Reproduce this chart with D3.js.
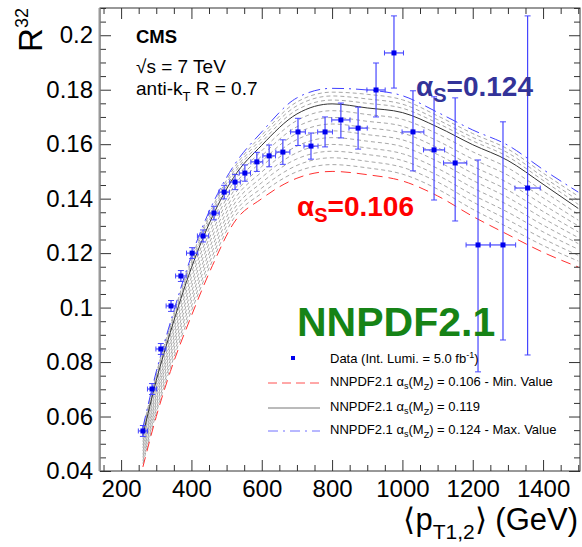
<!DOCTYPE html>
<html><head><meta charset="utf-8">
<script src="https://cdn.jsdelivr.net/npm/d3@7"></script>
<style>
body{margin:0;background:#fff}
svg{display:block}
text{font-family:"Liberation Sans",Arial,sans-serif}
</style>
</head><body>
<svg id="c" width="582" height="547"></svg>
<script>
// ---- data ----
const dataX     = [262,288,313,342,370,402,433,464,493,524,552,586,621,660,703,740,780,825,874,925,976,1030,1090,1150,1215,1286,1356];
const dataY     = [0.0547,0.0701,0.0848,0.1006,0.1116,0.1200,0.1263,0.1347,0.1424,0.1461,0.1494,0.1535,0.1557,0.1571,0.1645,0.1593,0.1645,0.1689,0.1659,0.1799,0.1935,0.1645,0.1579,0.1531,0.1230,0.1230,0.1439];
const dataErrLo = [0.0020,0.0020,0.0020,0.0020,0.0020,0.0020,0.0022,0.0025,0.0025,0.0028,0.0030,0.0035,0.0040,0.0045,0.0050,0.0048,0.0055,0.0066,0.0077,0.0099,0.0129,0.0143,0.0184,0.0213,0.0466,0.0349,0.0613];
const dataErrHi = [0.0020,0.0020,0.0020,0.0020,0.0020,0.0020,0.0022,0.0025,0.0025,0.0028,0.0030,0.0035,0.0040,0.0045,0.0050,0.0048,0.0055,0.0062,0.0077,0.0099,0.0136,0.0151,0.0195,0.0239,0.0312,0.0452,0.0632];
const dataXErr  = [13,13,14,14,15,16,16,15,15,15,16,17,18,20,21,20,21,26,26,26,27,31,30,33,34,36,36];

const curveX      = [262,300,340,400,460,520,600,700,800,900,1000,1100,1200,1300,1400,1500];
const curveMin106 = [0.0415,0.0600,0.0765,0.0970,0.1155,0.1310,0.1400,0.1475,0.1500,0.1488,0.1465,0.1410,0.1335,0.1268,0.1203,0.1149];
const curve119    = [0.0531,0.0732,0.0909,0.1146,0.1335,0.1478,0.1596,0.1711,0.1748,0.1733,0.1716,0.1663,0.1598,0.1540,0.1453,0.1364];
const curveMax124 = [0.0560,0.0765,0.0945,0.1190,0.1380,0.1520,0.1645,0.1770,0.1805,0.1799,0.1778,0.1717,0.1652,0.1596,0.1507,0.1424];
// intermediate alpha_s curves (grey dashed)
const curvesOther = [
  [0.0427,0.0613,0.0779,0.0988,0.1173,0.1327,0.1420,0.1499,0.1525,0.1513,0.1490,0.1435,0.1361,0.1295,0.1228,0.1171],
  [0.0438,0.0626,0.0794,0.1005,0.1191,0.1344,0.1439,0.1522,0.1550,0.1537,0.1515,0.1461,0.1388,0.1322,0.1253,0.1192],
  [0.0450,0.0640,0.0808,0.1023,0.1209,0.1360,0.1459,0.1546,0.1574,0.1562,0.1540,0.1486,0.1414,0.1350,0.1278,0.1214],
  [0.0461,0.0653,0.0823,0.1040,0.1227,0.1377,0.1478,0.1569,0.1599,0.1586,0.1565,0.1511,0.1440,0.1377,0.1303,0.1235],
  [0.0473,0.0666,0.0837,0.1058,0.1245,0.1394,0.1498,0.1593,0.1624,0.1611,0.1591,0.1537,0.1467,0.1404,0.1328,0.1257],
  [0.0485,0.0679,0.0851,0.1076,0.1263,0.1411,0.1518,0.1617,0.1649,0.1635,0.1616,0.1562,0.1493,0.1431,0.1353,0.1278],
  [0.0496,0.0692,0.0866,0.1093,0.1281,0.1428,0.1537,0.1640,0.1674,0.1660,0.1641,0.1587,0.1519,0.1458,0.1378,0.1300],
  [0.0508,0.0706,0.0880,0.1111,0.1299,0.1444,0.1557,0.1664,0.1698,0.1684,0.1666,0.1612,0.1545,0.1486,0.1403,0.1321],
  [0.0519,0.0719,0.0895,0.1128,0.1317,0.1461,0.1576,0.1687,0.1723,0.1709,0.1691,0.1638,0.1572,0.1513,0.1428,0.1343],
  [0.0538,0.0740,0.0918,0.1157,0.1346,0.1489,0.1608,0.1726,0.1762,0.1750,0.1732,0.1677,0.1612,0.1554,0.1467,0.1379],
  [0.0546,0.0749,0.0927,0.1168,0.1358,0.1499,0.1621,0.1741,0.1777,0.1766,0.1747,0.1690,0.1625,0.1568,0.1480,0.1394],
  [0.0553,0.0757,0.0936,0.1179,0.1369,0.1510,0.1633,0.1755,0.1791,0.1783,0.1763,0.1704,0.1639,0.1582,0.1494,0.1409]
];

const xMajorTicks = [200,400,600,800,1000,1200,1400];
const yMajorTicks = [0.04,0.06,0.08,0.10,0.12,0.14,0.16,0.18,0.20];

const legendLabels = ["Data (Int. Lumi. = 5.0 fb", "NNPDF2.1", "NNPDF2.1", "NNPDF2.1"];
const legendValues = ["", " = 0.106 - Min. Value", " = 0.119", " = 0.124 - Max. Value"];

// ---- layout ----
const svg = d3.select("#c");
const L = 100, R = 580, T = 8, B = 471;
const x = d3.scaleLinear().domain([140,1505]).range([L,R]);
const y = d3.scaleLinear().domain([0.04,0.21]).range([B,T]);

svg.append("rect").attr("width",582).attr("height",547).attr("fill","#fff");
svg.append("defs").append("clipPath").attr("id","clip")
  .append("rect").attr("x",L).attr("y",T).attr("width",R-L).attr("height",B-T);

const xMinor = d3.range(150,1505,50).filter(v=>!xMajorTicks.includes(v));
const yMinor = d3.range(0.04,0.2101,0.005).map(v=>+v.toFixed(3)).filter(v=>!yMajorTicks.some(m=>Math.abs(m-v)<1e-6));

function styleAxis(g){ g.select(".domain").remove(); g.selectAll("line").attr("stroke","#333"); g.selectAll("text").attr("font-size",24).attr("fill","#000").attr("font-family","'Liberation Sans',Arial,sans-serif"); }

// curves (behind axes)
const plot = svg.append("g").attr("clip-path","url(#clip)");
const line = d3.line().curve(d3.curveMonotoneX).x((d,i)=>x(curveX[i])).y(d=>y(d));
curvesOther.forEach(c=>plot.append("path").datum(c).attr("d",line).attr("fill","none")
  .attr("stroke","#a8a8a8").attr("stroke-width",1).attr("stroke-dasharray","4,3"));
plot.append("path").datum(curveMin106).attr("d",line).attr("fill","none")
  .attr("stroke","#ff3030").attr("stroke-width",1).attr("stroke-dasharray","10,6");
plot.append("path").datum(curve119).attr("d",line).attr("fill","none")
  .attr("stroke","#333").attr("stroke-width",1);
plot.append("path").datum(curveMax124).attr("d",line).attr("fill","none")
  .attr("stroke","#4040ff").attr("stroke-width",1).attr("stroke-dasharray","12,5,2,5");

svg.append("g").attr("transform",`translate(0,${B})`)
  .call(d3.axisBottom(x).tickValues(xMajorTicks).tickSize(-11).tickPadding(9).tickFormat(d3.format("d"))).call(styleAxis);
svg.append("g").attr("transform",`translate(0,${B})`)
  .call(d3.axisBottom(x).tickValues(xMinor).tickSize(-6).tickFormat("")).call(styleAxis);
svg.append("g").attr("transform",`translate(0,${T})`)
  .call(d3.axisTop(x).tickValues(xMajorTicks).tickSize(-11).tickFormat("")).call(styleAxis);
svg.append("g").attr("transform",`translate(0,${T})`)
  .call(d3.axisTop(x).tickValues(xMinor).tickSize(-6).tickFormat("")).call(styleAxis);
svg.append("g").attr("transform",`translate(${L},0)`)
  .call(d3.axisLeft(y).tickValues(yMajorTicks).tickSize(-11).tickPadding(7).tickFormat(v=>String(+v.toFixed(2)))).call(styleAxis);
svg.append("g").attr("transform",`translate(${L},0)`)
  .call(d3.axisLeft(y).tickValues(yMinor).tickSize(-6).tickFormat("")).call(styleAxis);
svg.append("g").attr("transform",`translate(${R},0)`)
  .call(d3.axisRight(y).tickValues(yMajorTicks).tickSize(-11).tickFormat("")).call(styleAxis);
svg.append("g").attr("transform",`translate(${R},0)`)
  .call(d3.axisRight(y).tickValues(yMinor).tickSize(-6).tickFormat("")).call(styleAxis);

svg.append("rect").attr("x",L).attr("y",T).attr("width",R-L).attr("height",B-T)
  .attr("fill","none").attr("stroke","#333").attr("stroke-width",1);
svg.append("line").attr("x1",L-0.5).attr("x2",L-0.5).attr("y1",T).attr("y2",B)
  .attr("stroke","#999").attr("stroke-width",2);

// data
const pts = svg.append("g").attr("clip-path","url(#clip)");
dataX.forEach((xv,i)=>{
  const cx = x(xv), cy = y(dataY[i]);
  const y1 = y(dataY[i]+dataErrHi[i]), y2 = y(dataY[i]-dataErrLo[i]);
  const x1 = x(xv-dataXErr[i]), x2 = x(xv+dataXErr[i]);
  const c = "#4646ff";
  pts.append("line").attr("x1",cx).attr("x2",cx).attr("y1",y1).attr("y2",y2).attr("stroke",c).attr("stroke-width",1.2);
  pts.append("line").attr("x1",x1).attr("x2",x2).attr("y1",cy).attr("y2",cy).attr("stroke",c).attr("stroke-width",1.2);
  [y1,y2].forEach(yy=>pts.append("line").attr("x1",cx-3).attr("x2",cx+3).attr("y1",yy).attr("y2",yy).attr("stroke",c).attr("stroke-width",1));
  [x1,x2].forEach(xx=>pts.append("line").attr("x1",xx).attr("x2",xx).attr("y1",cy-2.5).attr("y2",cy+2.5).attr("stroke",c).attr("stroke-width",1));
  pts.append("rect").attr("x",cx-2.5).attr("y",cy-2.5).attr("width",5).attr("height",5).attr("fill","#0000ee");
});

// axis titles
const yt = svg.append("text").attr("transform","translate(42,8) rotate(-90)").attr("text-anchor","end").attr("fill","#000");
yt.append("tspan").attr("font-size",33).text("R");
yt.append("tspan").attr("font-size",18).attr("dy",-14).text("32");

const xt = svg.append("text").attr("x",578).attr("y",530).attr("text-anchor","end").attr("font-size",31).attr("fill","#000");
xt.append("tspan").attr("font-family","'DejaVu Sans',sans-serif").attr("font-weight","200").text("\u27E8");
xt.append("tspan").text("p");
xt.append("tspan").attr("font-size",21).attr("dy",9).text("T1,2");
xt.append("tspan").attr("dy",-9).attr("font-family","'DejaVu Sans',sans-serif").attr("font-weight","200").text("\u27E9");
xt.append("tspan").text(" (GeV)");

// CMS text
svg.append("text").attr("x",136).attr("y",43).attr("font-size",18.5).attr("font-weight","bold").text("CMS");
svg.append("text").attr("x",136).attr("y",73).attr("font-size",19).text("\u221As = 7 TeV");
const ak = svg.append("text").attr("x",136).attr("y",95).attr("font-size",19);
ak.append("tspan").text("anti-k");
ak.append("tspan").attr("font-size",13).attr("dy",6).text("T");
ak.append("tspan").attr("dy",-6).text(" R = 0.7");

// big labels
function alphaLabel(xp,yp,val,color){
  const t = svg.append("text").attr("x",xp).attr("y",yp).attr("font-family","Lato,'Open Sans',sans-serif")
    .attr("font-weight","bold").attr("font-size",28).attr("fill",color);
  t.append("tspan").text("\u03B1");
  t.append("tspan").attr("font-size",20).attr("dy",6).text("S");
  t.append("tspan").attr("dy",-6).text("="+val);
}
alphaLabel(416,96,"0.124","#333399");
alphaLabel(297,216,"0.106","#ff0000");
svg.append("text").attr("x",297).attr("y",336).attr("font-family","Lato,'Open Sans',sans-serif")
  .attr("font-weight","bold").attr("font-size",41).attr("fill","#168316").text("NNPDF2.1");

// legend
const lg = svg.append("g").attr("font-size",13);
const rowY = [358,383,408,431];
lg.append("rect").attr("x",291).attr("y",rowY[0]-2).attr("width",4).attr("height",4).attr("fill","#0000ee");
const t0 = lg.append("text").attr("x",330).attr("y",rowY[0]+5);
t0.append("tspan").text(legendLabels[0]);
t0.append("tspan").attr("font-size",9).attr("dy",-5).text("-1");
t0.append("tspan").attr("dy",5).text(")");
lg.append("line").attr("x1",268).attr("x2",320).attr("y1",rowY[1]).attr("y2",rowY[1]).attr("stroke","#ff5050").attr("stroke-dasharray","9,5");
lg.append("line").attr("x1",268).attr("x2",320).attr("y1",rowY[2]).attr("y2",rowY[2]).attr("stroke","#777");
lg.append("line").attr("x1",268).attr("x2",320).attr("y1",rowY[3]).attr("y2",rowY[3]).attr("stroke","#7070ff").attr("stroke-dasharray","10,5,2,5");
[1,2,3].forEach(i=>{
  const t = lg.append("text").attr("x",330).attr("y",rowY[i]+3);
  t.append("tspan").text(legendLabels[i]+" \u03B1");
  t.append("tspan").attr("font-size",9).attr("dy",3).text("s");
  t.append("tspan").attr("dy",-3).text("(M");
  t.append("tspan").attr("font-size",9).attr("dy",4).text("Z");
  t.append("tspan").attr("dy",-4).text(")"+legendValues[i]);
});
</script>
</body></html>
